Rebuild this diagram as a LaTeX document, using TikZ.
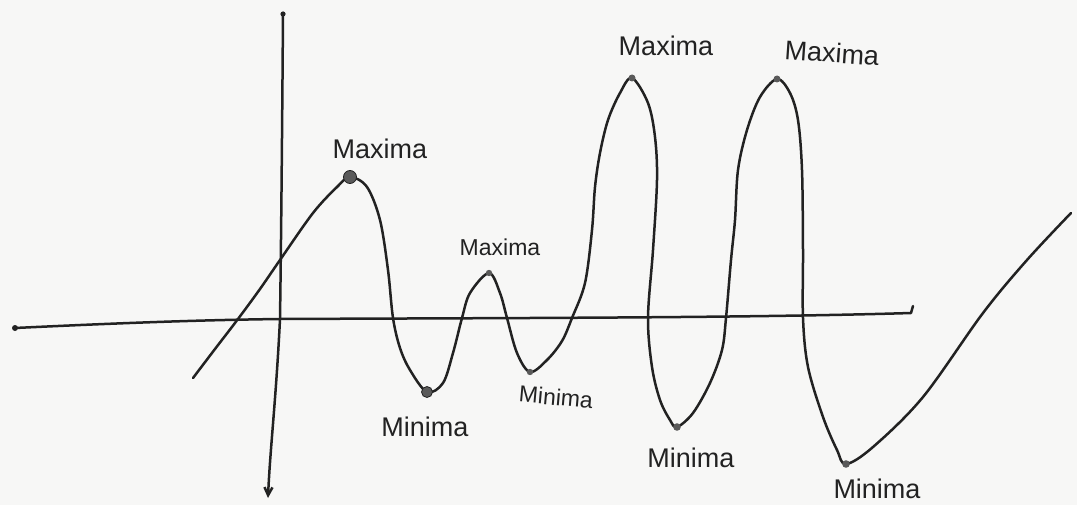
\documentclass[tikz,border=0pt]{standalone}
\usepackage{fontspec}
\setmainfont{Liberation Sans}
\usetikzlibrary{arrows.meta}
\definecolor{paper}{HTML}{F7F7F6}
\definecolor{ink}{HTML}{222222}
\definecolor{dotgrey}{HTML}{5A5A5A}
\tikzset{
  pen/.style={draw=ink, line width=2.5pt, line cap=round, line join=round},
  lbl/.style={text=ink, font=\fontsize{27}{30}\selectfont, inner sep=0pt},
  lblsmall/.style={text=ink, font=\fontsize{23}{26}\selectfont, inner sep=0pt},
  bigdot/.style={fill=dotgrey, draw=ink, line width=0.8pt},
  smalldot/.style={fill=dotgrey, draw=none}
}
\begin{document}
\begin{tikzpicture}[x=1pt,y=-1pt]
\fill[paper] (0,0) rectangle (1077,505);
\useasboundingbox (0,0) rectangle (1077,505);

% axes
\coordinate (xl) at (15,328);
\coordinate (xr) at (911,313);
\coordinate (yt) at (283,14);
\coordinate (yb) at (268,498);
\coordinate (o) at (280,319);
\draw[pen] (xl) .. controls (120,323) and (200,320) .. (o) .. controls (500,318) and (750,318) .. (xr) -- (913,306);
\draw[pen, -{Straight Barb[length=8pt,width=8pt]}] (yt) .. controls (282,150) and (281,250) .. (o) .. controls (276,400) and (270,450) .. (yb);
\fill[ink] (xl) circle (3);
\fill[ink] (yt) circle (2.6);

% extrema
\coordinate (M1) at (350,177);
\coordinate (m1) at (427,392);
\coordinate (M2) at (489,273);
\coordinate (m2) at (530,372);
\coordinate (M3) at (632,78);
\coordinate (m3) at (677,427);
\coordinate (M4) at (777,79);
\coordinate (m4) at (846,464);

% curve
\draw[pen] plot[smooth, tension=0.55] coordinates {
(193,378) (215,349) (238,319) (260,289) (280,260) (313,213) (337,187) (350,177)
(367,187) (380,220) (388,270) (393,318) (400,348) (410,370) (427,392)
(443,383) (453,353) (462,318) (470,293) (489,273)
(500,293) (507,318) (517,353) (530,372)
(547,360) (562,341) (572,318) (585,283) (592,230) (595,187) (600,153) (608,120) (620,93) (632,78)
(648,103) (655,137) (657,180) (653,250) (648,318) (652,367) (660,400) (670,420) (677,427)
(693,413) (710,383) (722,350) (726,318) (731,260) (735,220) (738,170) (747,130) (760,97) (777,79)
(790,93) (798,120) (802,170) (803,250) (803,318) (808,367) (823,417) (837,450) (846,464)
(873,447) (923,397) (983,313) (1027,260) (1071,213)};

\filldraw[bigdot] (M1) circle (6.5);
\filldraw[bigdot] (m1) circle (5.5);
\fill[smalldot] (M2) circle (3.2);
\fill[smalldot] (m2) circle (3.2);
\fill[smalldot] (M3) circle (3.5);
\fill[smalldot] (m3) circle (3.8);
\fill[smalldot] (M4) circle (3.5);
\fill[smalldot] (m4) circle (3.8);

% labels
\node[lbl] (LM1) at (380,149) {Maxima};
\node[lblsmall] (LM2) at (500,247) {Maxima};
\node[lbl] (LM3) at (666,46) {Maxima};
\node[lbl, rotate=-4] (LM4) at (832,53) {Maxima};
\node[lbl] (Lm1) at (425,427) {Minima};
\node[lblsmall, rotate=-5] (Lm2) at (556,397) {Minima};
\node[lbl] (Lm3) at (691,458) {Minima};
\node[lbl] (Lm4) at (877,489) {Minima};
\end{tikzpicture}
\end{document}
